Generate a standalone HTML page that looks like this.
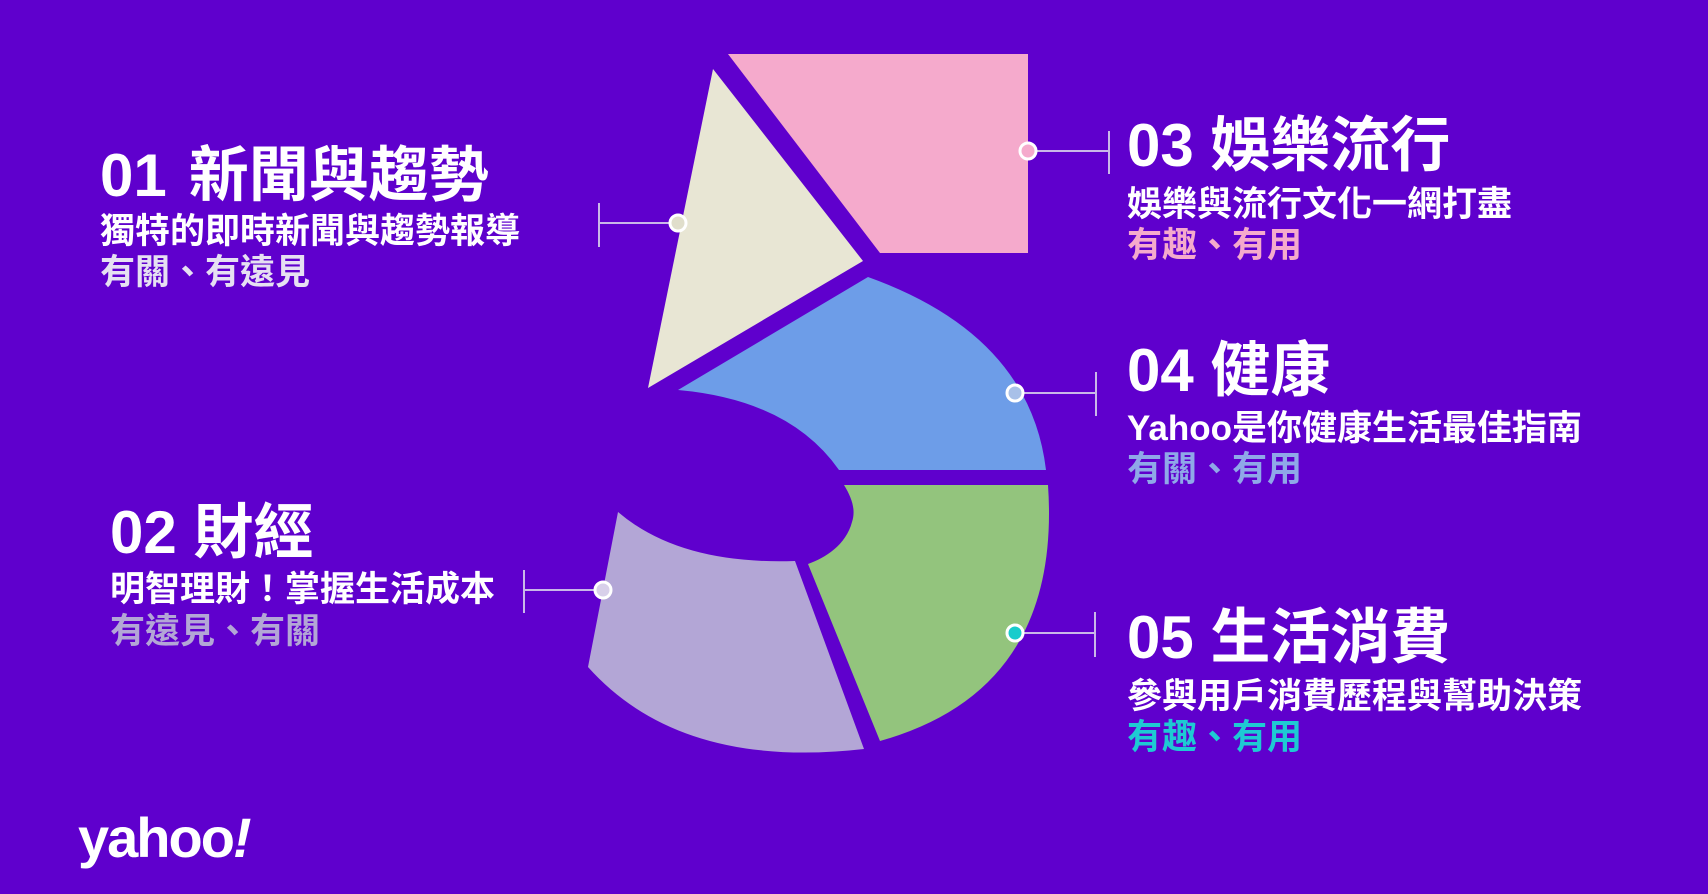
<!DOCTYPE html>
<html><head><meta charset="utf-8"><style>
html,body{margin:0;padding:0;background:#5f00cd;width:1708px;height:894px;overflow:hidden}
svg{display:block}
text{font-family:"Liberation Sans","Noto Sans CJK TC",sans-serif;font-weight:bold}
</style></head><body>
<svg width="1708" height="894" viewBox="0 0 1708 894" xmlns="http://www.w3.org/2000/svg">
<rect width="1708" height="894" fill="#5f00cd"/>
<!-- shapes -->
<polygon points="728,54 1028,54 1028,253 880,253" fill="#f5aacc"/>
<polygon points="713,69 863,261 648,388" fill="#e8e6d4"/>
<path d="M678,390 L868,277 Q1030,335 1046,470 L839,470 Q790,400 678,390 Z" fill="#6d9de8"/>
<path d="M844,485 L1048,485 Q1062,690 880,741 L808,564 C825,558 846,545 852,522 C856,510 852,498 844,485 Z" fill="#93c47d"/>
<path d="M618,512 Q680,565 795,561 L864,749 Q680,770 588,667 Z" fill="#b3a6d6"/>
<!-- connectors -->
<g stroke="#c9b8e8" stroke-width="2" fill="none">
<line x1="599" y1="223" x2="678" y2="223"/><line x1="599" y1="203" x2="599" y2="247"/>
<line x1="1028" y1="151" x2="1109" y2="151"/><line x1="1109" y1="131" x2="1109" y2="174"/>
<line x1="1015" y1="393" x2="1096" y2="393"/><line x1="1096" y1="372" x2="1096" y2="416"/>
<line x1="1015" y1="633" x2="1095" y2="633"/><line x1="1095" y1="612" x2="1095" y2="657"/>
<line x1="524" y1="590" x2="603" y2="590"/><line x1="524" y1="570" x2="524" y2="613"/>
</g>
<g stroke="#fff" stroke-width="3">
<circle cx="678" cy="223" r="8" fill="#e0decb"/>
<circle cx="1028" cy="151" r="8" fill="#f5aacc"/>
<circle cx="1015" cy="393" r="8" fill="#a8c0e8"/>
<circle cx="1015" cy="633" r="8" fill="#18cccc"/>
<circle cx="603" cy="590" r="8" fill="#d8d0ea"/>
</g>
<!-- text -->
<g fill="#fff">
<text x="100" y="196" font-size="60">01<tspan dx="22">新聞與趨勢</tspan></text>
<text x="100" y="243" font-size="35">獨特的即時新聞與趨勢報導</text>
<text x="100" y="284" font-size="35" fill="#e6e0f2">有關、有遠見</text>

<text x="110" y="553" font-size="60">02 財經</text>
<text x="110" y="601" font-size="35">明智理財！掌握生活成本</text>
<text x="110" y="643" font-size="35" fill="#b3a6d6">有遠見、有關</text>

<text x="1127" y="166" font-size="60">03 娛樂流行</text>
<text x="1127" y="216" font-size="35">娛樂與流行文化一網打盡</text>
<text x="1127" y="257" font-size="35" fill="#f5aacc">有趣、有用</text>

<text x="1127" y="391" font-size="60">04 健康</text>
<text x="1127" y="440" font-size="35">Yahoo是你健康生活最佳指南</text>
<text x="1127" y="481" font-size="35" fill="#8fa8e8">有關、有用</text>

<text x="1127" y="658" font-size="60">05 生活消費</text>
<text x="1127" y="708" font-size="35">參與用戶消費歷程與幫助決策</text>
<text x="1127" y="749" font-size="35" fill="#1ecad3">有趣、有用</text>

<text x="78" y="857" font-size="56" letter-spacing="-2">yahoo<tspan font-style="italic">!</tspan></text>
</g>
</svg>
</body></html>
